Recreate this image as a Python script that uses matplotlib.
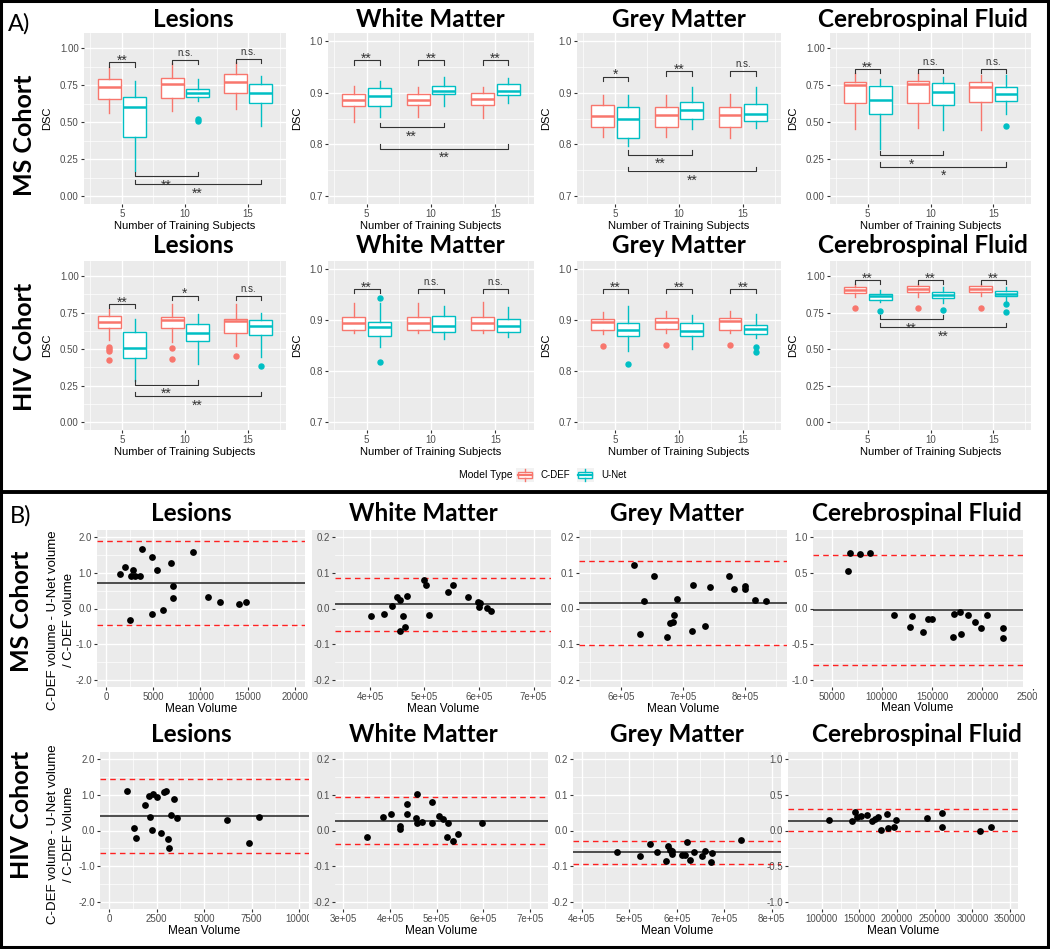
import matplotlib
matplotlib.use('Agg')
import matplotlib.pyplot as plt
from matplotlib.patches import Rectangle, Patch
from matplotlib.lines import Line2D
from matplotlib.legend_handler import HandlerBase
from matplotlib.ticker import FormatStrFormatter, FuncFormatter
from matplotlib.transforms import offset_copy

plt.rcParams['font.family'] = ['Liberation Sans', 'DejaVu Sans']
plt.rcParams['axes.unicode_minus'] = False

W, H = 1050, 949
RED, CYAN = '#F8766D', '#00BFC4'
BG = '#EBEBEB'
DARK = '#333333'
HEAD = ['Lato', 'DejaVu Sans']

# ---------------- A) DSC box plots ----------------
train_n = [5, 10, 15]
# each box: (lower whisker, Q1, median, Q3, upper whisker)
ms_les_cdef = [(0.56, 0.66, 0.74, 0.79, 0.87), (0.575, 0.665, 0.76, 0.80, 0.90), (0.59, 0.70, 0.77, 0.825, 0.91)]
ms_les_unet = [(0.17, 0.40, 0.60, 0.67, 0.78), (0.64, 0.67, 0.695, 0.725, 0.79), (0.475, 0.63, 0.70, 0.76, 0.81)]
ms_les_cdef_out = [[], [], []]
ms_les_unet_out = [[], [0.52, 0.51], []]
ms_les_pair_sig, ms_les_pair_y = ['**', 'n.s.', 'n.s.'], [0.905, 0.92, 0.93]
ms_les_trend_sig, ms_les_trend_y = ['**', '**'], [0.135, 0.08]

ms_wm_cdef = [(0.844, 0.875, 0.885, 0.898, 0.913), (0.853, 0.877, 0.886, 0.898, 0.910), (0.851, 0.877, 0.888, 0.899, 0.911)]
ms_wm_unet = [(0.853, 0.875, 0.894, 0.908, 0.922), (0.875, 0.898, 0.904, 0.913, 0.931), (0.880, 0.896, 0.904, 0.917, 0.928)]
ms_wm_cdef_out = [[], [], []]
ms_wm_unet_out = [[], [], []]
ms_wm_pair_sig, ms_wm_pair_y = ['**', '**', '**'], [0.962, 0.962, 0.962]
ms_wm_trend_sig, ms_wm_trend_y = ['**', '**'], [0.833, 0.792]

ms_gm_cdef = [(0.814, 0.833, 0.854, 0.876, 0.896), (0.814, 0.834, 0.857, 0.873, 0.896), (0.812, 0.833, 0.857, 0.873, 0.897)]
ms_gm_unet = [(0.797, 0.812, 0.849, 0.873, 0.896), (0.830, 0.849, 0.867, 0.881, 0.910), (0.832, 0.845, 0.858, 0.878, 0.910)]
ms_gm_cdef_out = [[], [], []]
ms_gm_unet_out = [[], [], []]
ms_gm_pair_sig, ms_gm_pair_y = ['*', '**', 'n.s.'], [0.931, 0.941, 0.941]
ms_gm_trend_sig, ms_gm_trend_y = ['**', '**'], [0.780, 0.749]

ms_csf_cdef = [(0.455, 0.629, 0.752, 0.774, 0.834), (0.46, 0.633, 0.758, 0.78, 0.834), (0.45, 0.636, 0.74, 0.774, 0.819)]
ms_csf_unet = [(0.32, 0.555, 0.651, 0.745, 0.79), (0.445, 0.617, 0.703, 0.763, 0.807), (0.555, 0.644, 0.691, 0.736, 0.819)]
ms_csf_cdef_out = [[], [], []]
ms_csf_unet_out = [[], [], [0.472]]
ms_csf_pair_sig, ms_csf_pair_y = ['**', 'n.s.', 'n.s.'], [0.859, 0.859, 0.859]
ms_csf_trend_sig, ms_csf_trend_y = ['*', '*'], [0.277, 0.199]

hiv_les_cdef = [(0.566, 0.647, 0.689, 0.73, 0.774), (0.549, 0.647, 0.70, 0.718, 0.809), (0.52, 0.61, 0.691, 0.707, 0.809)]
hiv_les_unet = [(0.284, 0.437, 0.509, 0.617, 0.707), (0.396, 0.554, 0.61, 0.673, 0.741), (0.444, 0.595, 0.655, 0.70, 0.745)]
hiv_les_cdef_out = [[0.516, 0.50, 0.485, 0.426], [0.505, 0.432], [0.453]]
hiv_les_unet_out = [[], [], [0.385]]
hiv_les_pair_sig, hiv_les_pair_y = ['**', '*', 'n.s.'], [0.809, 0.865, 0.865]
hiv_les_trend_sig, hiv_les_trend_y = ['**', '**'], [0.257, 0.178]

hiv_wm_cdef = [(0.875, 0.881, 0.893, 0.905, 0.933), (0.875, 0.881, 0.893, 0.906, 0.933), (0.875, 0.881, 0.893, 0.906, 0.934)]
hiv_wm_unet = [(0.848, 0.868, 0.886, 0.895, 0.933), (0.862, 0.877, 0.888, 0.907, 0.927), (0.866, 0.877, 0.888, 0.901, 0.925)]
hiv_wm_cdef_out = [[], [], []]
hiv_wm_unet_out = [[0.942, 0.818], [], []]
hiv_wm_pair_sig, hiv_wm_pair_y = ['**', 'n.s.', 'n.s.'], [0.96, 0.96, 0.96]
hiv_wm_trend_sig, hiv_wm_trend_y = [], []

hiv_gm_cdef = [(0.872, 0.881, 0.895, 0.901, 0.916), (0.874, 0.883, 0.896, 0.903, 0.917), (0.874, 0.881, 0.897, 0.903, 0.917)]
hiv_gm_unet = [(0.839, 0.868, 0.880, 0.893, 0.927), (0.844, 0.868, 0.879, 0.893, 0.909), (0.864, 0.872, 0.883, 0.89, 0.912)]
hiv_gm_cdef_out = [[0.849], [0.851], [0.851]]
hiv_gm_unet_out = [[0.813], [], [0.848, 0.837]]
hiv_gm_pair_sig, hiv_gm_pair_y = ['**', '**', '**'], [0.96, 0.96, 0.96]
hiv_gm_trend_sig, hiv_gm_trend_y = [], []

hiv_csf_cdef = [(0.858, 0.887, 0.905, 0.925, 0.944), (0.858, 0.892, 0.91, 0.932, 0.948), (0.864, 0.892, 0.91, 0.932, 0.948)]
hiv_csf_unet = [(0.82, 0.835, 0.86, 0.88, 0.903), (0.815, 0.849, 0.871, 0.894, 0.925), (0.831, 0.86, 0.88, 0.898, 0.927)]
hiv_csf_cdef_out = [[0.779], [0.779], [0.779]]
hiv_csf_unet_out = [[0.758], [0.768], [0.808, 0.756]]
hiv_csf_pair_sig, hiv_csf_pair_y = ['**', '**', '**'], [0.973, 0.973, 0.973]
hiv_csf_trend_sig, hiv_csf_trend_y = ['**', '**'], [0.707, 0.65]

# ---------------- B) Bland-Altman ----------------
# limits: (mean difference, upper LoA, lower LoA)
ms_les_vol = [1480, 2010, 2650, 2890, 3070, 3600, 3770, 2540, 4900, 4900, 5430, 6070, 6840, 7050, 7050, 9240, 10830, 12060, 14110, 14780]
ms_les_diff = [0.977, 1.16, 0.90, 1.09, 0.92, 0.92, 1.665, -0.335, 1.43, -0.167, 1.07, -0.03, 1.27, 0.64, 0.30, 1.58, 0.33, 0.195, 0.14, 0.18]
ms_les_lim = (0.716, 1.88, -0.465)

ms_wm_vol = [401000, 425700, 440000, 449000, 455000, 455000, 460000, 464000, 467000, 500000, 502500, 509000, 544000, 553000, 579000, 598000, 602000, 600000, 615000, 622000]
ms_wm_diff = [-0.0224, -0.015, 0.0084, 0.031, 0.0243, -0.0617, -0.0206, -0.053, 0.0364, 0.080, 0.0664, -0.0178, 0.0449, 0.0654, 0.0336, 0.0196, 0.0168, 0.0037, 0.0009, -0.0065]
ms_wm_lim = (0.013, 0.085, -0.0626)

ms_gm_vol = [621400, 631100, 637500, 652500, 675000, 678300, 683600, 685800, 691100, 714200, 715800, 735700, 743700, 774300, 782800, 800000, 800000, 816100, 833200]
ms_gm_diff = [0.1224, -0.072, 0.0224, 0.0897, -0.0785, -0.041, -0.039, -0.0178, 0.0262, -0.0617, 0.0664, -0.0477, 0.0589, 0.0897, 0.0542, 0.0617, 0.0551, 0.0243, 0.0224]
ms_gm_lim = (0.015, 0.1336, -0.1019)

ms_csf_vol = [66600, 68260, 78220, 88180, 112420, 128020, 130350, 141300, 146280, 149600, 172180, 171180, 177820, 178820, 185460, 192770, 198410, 205050, 220990, 220330]
ms_csf_diff = [0.526, 0.777, 0.768, 0.777, -0.09, -0.256, -0.109, -0.336, -0.147, -0.147, -0.076, -0.398, -0.043, -0.351, -0.09, -0.185, -0.275, -0.09, -0.275, -0.408]
ms_csf_lim = (-0.019, 0.754, -0.796)

hiv_les_vol = [930, 1316, 1404, 1895, 2123, 2158, 2281, 2333, 2544, 2719, 2895, 2982, 3421, 3263, 3561, 3123, 3158, 6193, 7386, 7912]
hiv_les_diff = [1.116, 0.074, -0.205, 0.707, 0.977, 0.372, 0.028, 1.033, 0.94, -0.065, 1.07, 1.098, 0.884, 0.447, 0.353, -0.233, -0.502, 0.288, -0.344, 0.381]
hiv_les_lim = (0.42, 1.45, -0.62)

hiv_wm_vol = [350000, 385700, 401400, 421400, 421400, 437100, 437100, 455700, 457100, 458600, 467900, 489300, 489300, 505700, 514300, 525000, 521400, 534300, 546400, 596400]
hiv_wm_diff = [-0.0186, 0.039, 0.0465, 0.014, 0.0047, 0.0735, 0.0465, 0.0344, 0.1023, 0.0223, 0.0233, 0.079, 0.0223, 0.042, 0.0316, 0.0205, -0.0195, -0.0288, -0.0102, 0.0205]
hiv_wm_lim = (0.027, 0.093, -0.038)

hiv_gm_vol = [473700, 522800, 543900, 559300, 576800, 581100, 586000, 589500, 590900, 611900, 617500, 622500, 628100, 636500, 652600, 659600, 671600, 673700, 734700]
hiv_gm_diff = [-0.0614, -0.0707, -0.0372, -0.0605, -0.0865, -0.0447, -0.054, -0.0586, -0.065, -0.068, -0.068, -0.0326, -0.0837, -0.0605, -0.0726, -0.0567, -0.0893, -0.0633, -0.028]
hiv_gm_lim = (-0.0605, -0.0288, -0.093)

hiv_csf_vol = [110200, 139800, 144200, 147300, 151800, 159700, 167300, 170800, 174300, 178800, 187200, 187600, 196000, 198200, 239400, 260200, 260200, 310200, 324800]
hiv_csf_diff = [0.1535, 0.14, 0.256, 0.195, 0.2, 0.219, 0.13, 0.163, 0.186, 0.014, 0.233, 0.037, 0.047, 0.153, 0.177, 0.242, 0.047, 0.0, 0.056]
hiv_csf_lim = (0.14, 0.302, -0.014)

fig = plt.figure(figsize=(W / 100, H / 100), dpi=100)


def px_axes(l, t, r, b):
    return fig.add_axes([l / W, 1 - b / H, (r - l) / W, (b - t) / H])


def px_text(x, y, s, **kw):
    return fig.text(x / W, 1 - y / H, s, **kw)


def base_style(ax, xlim, ylim, xmaj, xmin, ymaj, ymin):
    ax.set_facecolor(BG)
    for sp in ax.spines.values():
        sp.set_visible(False)
    ax.set_xlim(xlim)
    ax.set_ylim(ylim)
    ax.set_xticks(xmaj)
    ax.set_xticks(xmin, minor=True)
    ax.set_yticks(ymaj)
    ax.set_yticks(ymin, minor=True)
    ax.grid(which='major', color='white', lw=1.0)
    ax.grid(which='minor', color='white', lw=0.5)
    ax.set_axisbelow(True)
    ax.tick_params(which='major', length=2.5, width=0.8, color=DARK,
                   labelsize=7, labelcolor='#4D4D4D', pad=1.2)
    ax.tick_params(which='minor', length=0)


def sig_label(ax, x, y, lab, above):
    # stars sit high in the em box, so they need a different shift than "n.s."
    star = '*' in lab
    if above:
        dy = 1.5 if star else 7
    else:
        dy = -9.5 if star else -6
    tr = offset_copy(ax.transData, fig=fig, y=dy, units='dots')
    ax.text(x, y, lab, ha='center', va='center', fontsize=10 if star else 7,
            color=DARK, transform=tr)


def box_panel(box, cdef, unet, cdef_out, unet_out, pair_sig, pair_y, trend_sig, trend_y, wide, ylab_x):
    ax = px_axes(*box)
    if wide:
        ylim = (-0.0525, 1.1025)
        base_style(ax, (2, 18), ylim, train_n, [2.5, 7.5, 12.5, 17.5],
                   [0, 0.25, 0.5, 0.75, 1.0], [0.125, 0.375, 0.625, 0.875])
        ax.yaxis.set_major_formatter(FormatStrFormatter('%.2f'))
    else:
        ylim = (0.685, 1.015)
        base_style(ax, (2, 18), ylim, train_n, [2.5, 7.5, 12.5, 17.5],
                   [0.7, 0.8, 0.9, 1.0], [0.75, 0.85, 0.95])
        ax.yaxis.set_major_formatter(FormatStrFormatter('%.1f'))
    for stats, outs, shift, col in [(cdef, cdef_out, -1, RED), (unet, unet_out, 1, CYAN)]:
        bx = [dict(whislo=s[0], q1=s[1], med=s[2], q3=s[3], whishi=s[4], fliers=o)
              for s, o in zip(stats, outs)]
        ax.bxp(bx, positions=[n + shift for n in train_n], widths=1.8, patch_artist=True,
               showcaps=False, manage_ticks=False,
               boxprops=dict(facecolor='white', edgecolor=col, linewidth=1.0),
               whiskerprops=dict(color=col, linewidth=1.0),
               medianprops=dict(color=col, linewidth=1.8),
               flierprops=dict(marker='o', markerfacecolor=col, markeredgecolor=col, markersize=3.6))
    tip = 0.025 * (ylim[1] - ylim[0])
    for n, lab, y in zip(train_n, pair_sig, pair_y):
        ax.plot([n - 1, n - 1, n + 1, n + 1], [y - tip, y, y, y - tip], color=DARK, lw=0.8)
        sig_label(ax, n, y, lab, True)
    for n, lab, y in zip(train_n[1:], trend_sig, trend_y):
        x0, x1 = train_n[0] + 1, n + 1
        ax.plot([x0, x0, x1, x1], [y + tip, y, y, y + tip], color=DARK, lw=0.8)
        sig_label(ax, (x0 + x1) / 2, y, lab, False)
    ax.set_xlabel('Number of Training Subjects', fontsize=8, labelpad=1.5)
    ax.set_ylabel('DSC', fontsize=8)
    ax.yaxis.set_label_coords((ylab_x - box[0]) / (box[2] - box[0]), 0.5)
    return ax


def ba_panel(box, vol, diff, lim, xlim, ylim, xmaj, xmin, ymaj, ymin, sci, xlab_x=None):
    ax = px_axes(*box)
    base_style(ax, xlim, ylim, xmaj, xmin, ymaj, ymin)
    ax.yaxis.set_major_formatter(FormatStrFormatter('%.1f'))
    if sci:
        ax.xaxis.set_major_formatter(FuncFormatter(lambda v, p: f'{v:.0e}'))
    else:
        ax.xaxis.set_major_formatter(FuncFormatter(lambda v, p: f'{v:.0f}'))
    ax.axhline(lim[0], color='#222222', lw=1.1)
    ax.axhline(lim[1], color='#FF2020', lw=1.0, ls=(0, (4, 3)))
    ax.axhline(lim[2], color='#FF2020', lw=1.0, ls=(0, (4, 3)))
    ax.scatter(vol, diff, s=24, color='black', linewidths=0, zorder=3)
    ax.set_xlabel('Mean Volume', fontsize=8.5, labelpad=0.5)
    if xlab_x is not None:
        ax.xaxis.set_label_coords((xlab_x - box[0]) / (box[2] - box[0]), -0.095)
    return ax


# ---- panel A ----
cols_a = [(84, 286), (328, 534), (577, 781), (830, 1031)]
ylab_a = [52, 302, 551, 798]
rows_a = [(33, 204), (261, 430)]
ms_sets = [
    (ms_les_cdef, ms_les_unet, ms_les_cdef_out, ms_les_unet_out, ms_les_pair_sig, ms_les_pair_y, ms_les_trend_sig, ms_les_trend_y, True),
    (ms_wm_cdef, ms_wm_unet, ms_wm_cdef_out, ms_wm_unet_out, ms_wm_pair_sig, ms_wm_pair_y, ms_wm_trend_sig, ms_wm_trend_y, False),
    (ms_gm_cdef, ms_gm_unet, ms_gm_cdef_out, ms_gm_unet_out, ms_gm_pair_sig, ms_gm_pair_y, ms_gm_trend_sig, ms_gm_trend_y, False),
    (ms_csf_cdef, ms_csf_unet, ms_csf_cdef_out, ms_csf_unet_out, ms_csf_pair_sig, ms_csf_pair_y, ms_csf_trend_sig, ms_csf_trend_y, True),
]
hiv_sets = [
    (hiv_les_cdef, hiv_les_unet, hiv_les_cdef_out, hiv_les_unet_out, hiv_les_pair_sig, hiv_les_pair_y, hiv_les_trend_sig, hiv_les_trend_y, True),
    (hiv_wm_cdef, hiv_wm_unet, hiv_wm_cdef_out, hiv_wm_unet_out, hiv_wm_pair_sig, hiv_wm_pair_y, hiv_wm_trend_sig, hiv_wm_trend_y, False),
    (hiv_gm_cdef, hiv_gm_unet, hiv_gm_cdef_out, hiv_gm_unet_out, hiv_gm_pair_sig, hiv_gm_pair_y, hiv_gm_trend_sig, hiv_gm_trend_y, False),
    (hiv_csf_cdef, hiv_csf_unet, hiv_csf_cdef_out, hiv_csf_unet_out, hiv_csf_pair_sig, hiv_csf_pair_y, hiv_csf_trend_sig, hiv_csf_trend_y, True),
]
for (t, b), sets in zip(rows_a, [ms_sets, hiv_sets]):
    for (l, r), yl, s in zip(cols_a, ylab_a, sets):
        box_panel((l, t, r, b), *s, ylab_x=yl)

regions = ['Lesions', 'White Matter', 'Grey Matter', 'Cerebrospinal Fluid']
title_kw = dict(family=HEAD, weight='bold', fontsize=17.5, ha='center', va='baseline')
for reg, x in zip(regions, [193, 430, 679, 923]):
    px_text(x, 27, reg, **title_kw)
    px_text(x, 253, reg, **title_kw)
for reg, x in zip(regions, [191, 423, 677, 917]):
    px_text(x, 521, reg, **title_kw)
    px_text(x, 742, reg, **title_kw)

row_kw = dict(family=HEAD, weight='bold', fontsize=18, ha='center', va='center', rotation=90)
px_text(25, 135, 'MS Cohort', **row_kw)
px_text(25, 347, 'HIV Cohort', **row_kw)
px_text(22, 611, 'MS Cohort', **row_kw)
px_text(22, 815, 'HIV Cohort', **row_kw)
px_text(8, 31, 'A)', family=HEAD, fontsize=17, ha='left', va='baseline')
px_text(10, 523, 'B)', family=HEAD, fontsize=17, ha='left', va='baseline')


# legend
class BoxKey(HandlerBase):
    def create_artists(self, legend, orig_handle, xdescent, ydescent, width, height, fontsize, trans):
        col = orig_handle.get_edgecolor()
        x0, y0 = -xdescent, -ydescent
        bg = Rectangle((x0, y0), width, height, facecolor='#F2F2F2', edgecolor='none', transform=trans)
        bx = Rectangle((x0 + 0.1 * width, y0 + 0.28 * height), 0.8 * width, 0.44 * height,
                       facecolor='white', edgecolor=col, lw=1.0, transform=trans)
        w1 = Line2D([x0 + width / 2] * 2, [y0 + 0.05 * height, y0 + 0.28 * height], color=col, lw=1.0, transform=trans)
        w2 = Line2D([x0 + width / 2] * 2, [y0 + 0.72 * height, y0 + 0.95 * height], color=col, lw=1.0, transform=trans)
        md = Line2D([x0 + 0.1 * width, x0 + 0.9 * width], [y0 + height / 2] * 2, color=col, lw=1.6, transform=trans)
        return [bg, bx, w1, w2, md]


px_text(513, 475, 'Model Type', fontsize=7.5, ha='right', va='center')
fig.legend(handles=[Patch(facecolor='white', edgecolor=RED), Patch(facecolor='white', edgecolor=CYAN)],
           labels=['C-DEF', 'U-Net'], ncol=2, loc='center left', bbox_to_anchor=(516 / W, 1 - 475 / H),
           frameon=False, fontsize=7, handler_map={Patch: BoxKey()}, handlelength=1.8, handleheight=1.8,
           handletextpad=0.7, columnspacing=0.7, borderpad=0, borderaxespad=0)

# ---- panel B ----
les_y = dict(ylim=(-2.2, 2.2), ymaj=[-2, -1, 0, 1, 2], ymin=[-1.5, -0.5, 0.5, 1.5])
tis_y = dict(ylim=(-0.22, 0.22), ymaj=[-0.2, -0.1, 0, 0.1, 0.2], ymin=[-0.15, -0.05, 0.05, 0.15])
csf_y = dict(ylim=(-1.1, 1.1), ymaj=[-1, -0.5, 0, 0.5, 1], ymin=[-0.75, -0.25, 0.25, 0.75])

ba_panel((97, 530, 305, 687), ms_les_vol, ms_les_diff, ms_les_lim, (-952, 21058), xmaj=[0, 5000, 10000, 15000, 20000],
         xmin=[2500, 7500, 12500, 17500], sci=False, **les_y)
ba_panel((335, 530, 551, 687), ms_wm_vol, ms_wm_diff, ms_wm_lim, (335800, 732100), xmaj=[4e5, 5e5, 6e5, 7e5],
         xmin=[3.5e5, 4.5e5, 5.5e5, 6.5e5], sci=True, **tis_y)
ba_panel((579, 530, 787, 687), ms_gm_vol, ms_gm_diff, ms_gm_lim, (532300, 867700), xmaj=[6e5, 7e5, 8e5],
         xmin=[5.5e5, 6.5e5, 7.5e5, 8.5e5], sci=True, **tis_y)
ba_panel((813, 530, 1046, 687), ms_csf_vol, ms_csf_diff, ms_csf_lim, (31400, 263400),
         xmaj=[50000, 100000, 150000, 200000, 250000], xmin=[75000, 125000, 175000, 225000], sci=False,
         xlab_x=917, **csf_y)

ba_panel((100, 752, 309, 909), hiv_les_vol, hiv_les_diff, hiv_les_lim, (-474, 10526), xmaj=[0, 2500, 5000, 7500, 10000],
         xmin=[1250, 3750, 6250, 8750], sci=False, **les_y)
ba_panel((335, 752, 548, 909), hiv_wm_vol, hiv_wm_diff, hiv_wm_lim, (282200, 738500), xmaj=[3e5, 4e5, 5e5, 6e5, 7e5],
         xmin=[3.5e5, 4.5e5, 5.5e5, 6.5e5], sci=True, **tis_y)
ba_panel((573, 752, 781, 909), hiv_gm_vol, hiv_gm_diff, hiv_gm_lim, (381700, 819600), xmaj=[4e5, 5e5, 6e5, 7e5, 8e5],
         xmin=[4.5e5, 5.5e5, 6.5e5, 7.5e5], sci=True, **tis_y)
ba_panel((788, 752, 1018, 909), hiv_csf_vol, hiv_csf_diff, hiv_csf_lim, (55300, 360600),
         xmaj=[100000, 150000, 200000, 250000, 300000, 350000], xmin=[125000, 175000, 225000, 275000, 325000],
         sci=False, **csf_y)

ylab_kw = dict(fontsize=9.5, ha='center', va='center', rotation=90, linespacing=1.45)
px_text(61, 620, 'C-DEF volume - U-Net volume\n/ C-DEF volume', **ylab_kw)
px_text(61, 834, 'C-DEF volume - U-Net volume\n/ C-DEF Volume', **ylab_kw)

# gray strips left of the white matter panels, cropped edges, frame
for top in (530, 752):
    fig.add_artist(Rectangle((312 / W, 1 - (top + 157) / H), 23 / W, 157 / H, transform=fig.transFigure,
                             facecolor=BG, edgecolor='none', zorder=-1))
fig.add_artist(Rectangle((1023 / W, 1 - 689 / H), 24 / W, 162 / H, transform=fig.transFigure,
                         facecolor='white', edgecolor='none', zorder=5))
fig.add_artist(Rectangle((1037 / W, 1 - 702 / H), 10 / W, 14 / H, transform=fig.transFigure,
                         facecolor='white', edgecolor='none', zorder=5))
fig.add_artist(Rectangle((308.5 / W, 1 - 928 / H), 3.5 / W, 18 / H, transform=fig.transFigure,
                         facecolor='white', edgecolor='none', zorder=5))
fig.add_artist(Rectangle((1.3 / W, 2.5 / H), 1 - 3.0 / W, 1 - 3.8 / H, transform=fig.transFigure,
                         fill=False, edgecolor='black', lw=2.2, zorder=10))
fig.add_artist(Line2D([0, 1], [1 - 491.5 / H] * 2, transform=fig.transFigure, color='black', lw=2.8, zorder=10))

fig.savefig('out.png', dpi=100)
